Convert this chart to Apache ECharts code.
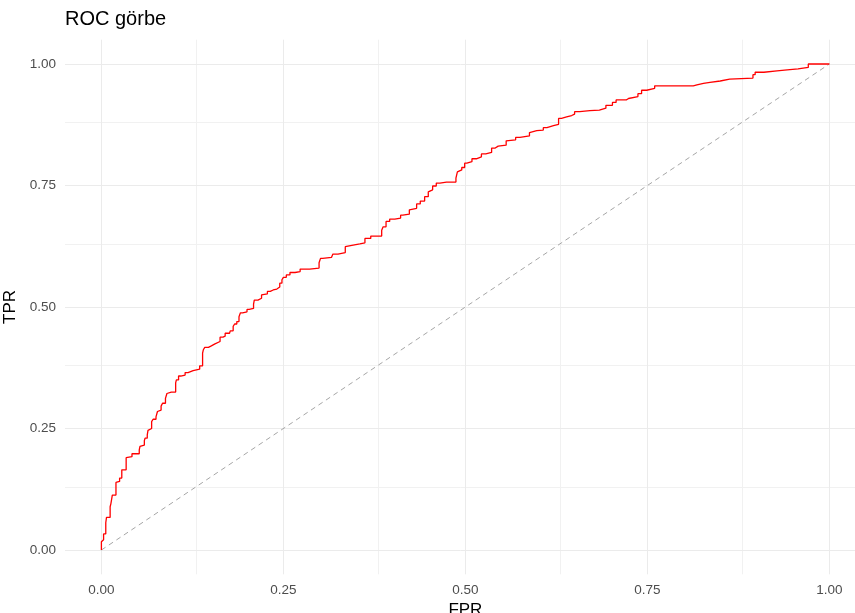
<!DOCTYPE html>
<html>
<head>
<meta charset="utf-8">
<title>ROC görbe</title>
<script src="https://cdn.jsdelivr.net/npm/echarts@6/dist/echarts.min.js"></script>
<style>
  html, body { margin: 0; padding: 0; background: #ffffff; }
  #chart { width: 855px; height: 613px; }
</style>
</head>
<body>
<div id="chart"></div>
<script>
// ROC curve: false positive rate and true positive rate at each step
const fpr = [
  0, 0.001, 0.003, 0.003, 0.006, 0.007, 0.009, 0.012, 0.013, 0.015,
  0.016, 0.020, 0.020, 0.022, 0.025, 0.028, 0.030, 0.034, 0.035, 0.042,
  0.042, 0.052, 0.053, 0.055, 0.059, 0.060, 0.063, 0.064, 0.066, 0.069,
  0.071, 0.075, 0.077, 0.078, 0.082, 0.084, 0.088, 0.090, 0.091, 0.096,
  0.102, 0.103, 0.106, 0.109, 0.115, 0.119, 0.126, 0.135, 0.139, 0.140,
  0.142, 0.147, 0.151, 0.156, 0.158, 0.163, 0.167, 0.170, 0.176, 0.177,
  0.181, 0.183, 0.186, 0.189, 0.191, 0.194, 0.200, 0.203, 0.209, 0.210,
  0.215, 0.220, 0.222, 0.228, 0.232, 0.236, 0.241, 0.245, 0.248, 0.250,
  0.254, 0.259, 0.266, 0.273, 0.286, 0.299, 0.301, 0.304, 0.316, 0.318,
  0.325, 0.335, 0.336, 0.344, 0.355, 0.362, 0.370, 0.371, 0.385, 0.387,
  0.391, 0.396, 0.403, 0.411, 0.414, 0.423, 0.425, 0.433, 0.438, 0.444,
  0.449, 0.450, 0.455, 0.460, 0.465, 0.474, 0.487, 0.489, 0.490, 0.495,
  0.499, 0.502, 0.509, 0.515, 0.522, 0.528, 0.536, 0.541, 0.545, 0.556,
  0.558, 0.569, 0.575, 0.588, 0.590, 0.598, 0.607, 0.612, 0.621, 0.628,
  0.632, 0.639, 0.646, 0.650, 0.657, 0.671, 0.684, 0.693, 0.702, 0.707,
  0.721, 0.724, 0.737, 0.742, 0.749, 0.760, 0.773, 0.813, 0.818, 0.827,
  0.836, 0.850, 0.863, 0.895, 0.898, 0.910, 0.928, 0.942, 0.957, 0.971,
  0.974, 1
];
const tpr = [
  0, 0.017, 0.021, 0.033, 0.033, 0.056, 0.067, 0.067, 0.089, 0.095,
  0.113, 0.113, 0.127, 0.139, 0.141, 0.148, 0.165, 0.165, 0.190, 0.192,
  0.198, 0.198, 0.206, 0.213, 0.216, 0.225, 0.230, 0.237, 0.246, 0.250,
  0.264, 0.269, 0.274, 0.285, 0.288, 0.296, 0.302, 0.312, 0.322, 0.325,
  0.325, 0.344, 0.350, 0.358, 0.360, 0.365, 0.369, 0.372, 0.379, 0.405,
  0.412, 0.417, 0.420, 0.424, 0.428, 0.429, 0.438, 0.440, 0.446, 0.449,
  0.451, 0.460, 0.465, 0.470, 0.480, 0.488, 0.490, 0.495, 0.497, 0.506,
  0.514, 0.518, 0.525, 0.527, 0.532, 0.535, 0.537, 0.541, 0.549, 0.556,
  0.561, 0.566, 0.571, 0.573, 0.578, 0.580, 0.591, 0.600, 0.602, 0.605,
  0.609, 0.612, 0.624, 0.627, 0.630, 0.632, 0.641, 0.646, 0.646, 0.658,
  0.665, 0.676, 0.681, 0.683, 0.689, 0.691, 0.700, 0.703, 0.712, 0.718,
  0.727, 0.737, 0.741, 0.749, 0.755, 0.757, 0.757, 0.765, 0.778, 0.782,
  0.787, 0.796, 0.799, 0.805, 0.809, 0.815, 0.818, 0.827, 0.831, 0.833,
  0.842, 0.844, 0.849, 0.852, 0.859, 0.863, 0.864, 0.869, 0.873, 0.876,
  0.888, 0.891, 0.894, 0.897, 0.902, 0.904, 0.905, 0.909, 0.915, 0.921,
  0.926, 0.929, 0.933, 0.939, 0.946, 0.950, 0.955, 0.955, 0.957, 0.960,
  0.962, 0.965, 0.969, 0.971, 0.978, 0.983, 0.986, 0.988, 0.990, 0.993,
  1, 1
];

// Chance line from (0,0) to (1,1)
const chanceX = [0, 1];
const chanceY = [0, 1];

// Tick labels and grid positions (both axes share them)
const majorTicks = [0, 0.25, 0.5, 0.75, 1];
const minorTicks = [0.125, 0.375, 0.625, 0.875];

const FONT = "'Liberation Sans', Arial, 'DejaVu Sans', sans-serif";

const rocData = fpr.map((x, i) => [x, tpr[i]]);
const chanceData = chanceX.map((x, i) => [x, chanceY[i]]);

const minorStyle = { color: '#f1f1f1', width: 1, type: 'solid' };
const majorStyle = { color: '#ebebeb', width: 1, type: 'solid' };
const gridLines = [];
minorTicks.forEach(v => {
  gridLines.push({ xAxis: v, lineStyle: minorStyle });
  gridLines.push({ yAxis: v, lineStyle: minorStyle });
});
majorTicks.forEach(v => {
  gridLines.push({ xAxis: v, lineStyle: majorStyle });
  gridLines.push({ yAxis: v, lineStyle: majorStyle });
});

const axisText = { color: '#4d4d4d', fontSize: 13.5, fontFamily: FONT };

const chart = echarts.init(document.getElementById('chart'), null, { renderer: 'canvas' });
chart.setOption({
  animation: false,
  backgroundColor: '#ffffff',
  title: {
    text: 'ROC görbe',
    left: 65,
    top: 9,
    padding: 0,
    textStyle: { color: '#000000', fontSize: 20, fontWeight: 'normal', fontFamily: FONT }
  },
  grid: {
    left: 65,
    top: 39.7,
    width: 800.8,
    height: 534.6,
    containLabel: false,
    outerBoundsMode: 'none'
  },
  xAxis: {
    type: 'value',
    min: -0.05,
    max: 1.05,
    name: 'FPR',
    nameLocation: 'middle',
    nameGap: 23,
    nameTextStyle: { color: '#000000', fontSize: 17, fontFamily: FONT },
    axisLine: { show: false },
    axisTick: { show: false },
    splitLine: { show: false },
    axisLabel: {
      ...axisText,
      margin: 9,
      customValues: majorTicks,
      formatter: v => v.toFixed(2)
    }
  },
  yAxis: {
    type: 'value',
    min: -0.05,
    max: 1.05,
    name: 'TPR',
    nameLocation: 'middle',
    nameRotate: 90,
    nameGap: 39,
    nameTextStyle: { color: '#000000', fontSize: 17, fontFamily: FONT },
    axisLine: { show: false },
    axisTick: { show: false },
    splitLine: { show: false },
    axisLabel: {
      ...axisText,
      margin: 9,
      customValues: majorTicks,
      formatter: v => v.toFixed(2)
    }
  },
  series: [
    {
      name: 'grid',
      type: 'line',
      data: [],
      silent: true,
      z: 0,
      markLine: {
        silent: true,
        z: 0,
        zlevel: 0,
        symbol: ['none', 'none'],
        label: { show: false },
        emphasis: { disabled: true },
        animation: false,
        lineStyle: { type: 'solid' },
        data: gridLines
      }
    },
    {
      name: 'chance',
      type: 'line',
      z: 5,
      data: chanceData,
      showSymbol: false,
      silent: true,
      lineStyle: { color: '#a6a6a6', width: 1, type: [5, 4] }
    },
    {
      name: 'ROC',
      type: 'line',
      z: 10,
      data: rocData,
      step: 'start',
      showSymbol: false,
      silent: true,
      lineStyle: { color: '#ff0000', width: 1.3 }
    }
  ]
});
</script>
</body>
</html>
